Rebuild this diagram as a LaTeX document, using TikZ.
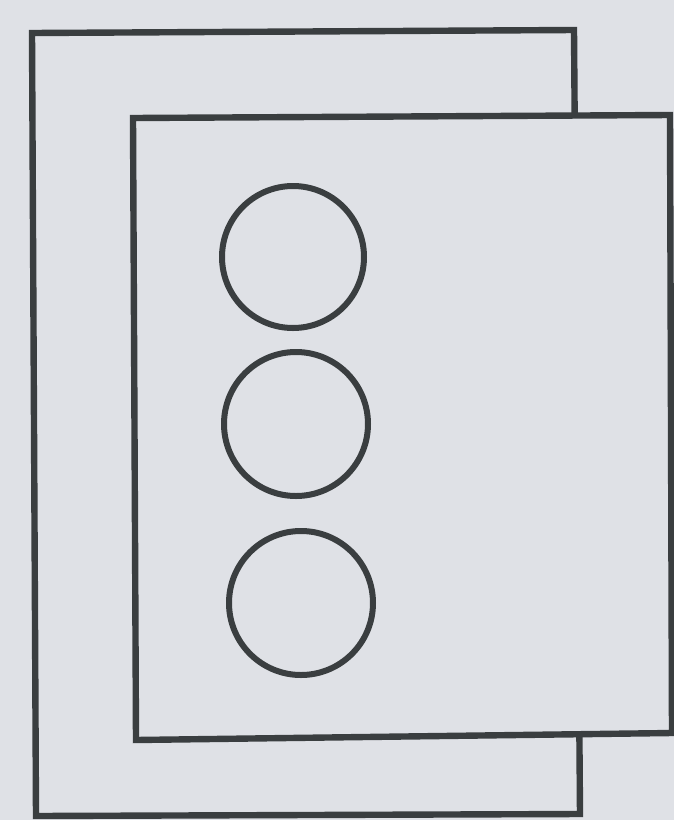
\documentclass[tikz,border=0pt]{standalone}
\usepackage{tikz}

\definecolor{paper}{RGB}{223,225,230}
\definecolor{ink}{RGB}{58,62,64}

\tikzset{
    outline/.style={draw=ink, line width=3.2pt, fill=paper},
    hole/.style={draw=ink, line width=3pt}
}

\begin{document}
\begin{tikzpicture}[x=0.5pt, y=-0.5pt]
    % Paper background
    \fill[paper] (0,0) rectangle (674,820);
    \useasboundingbox (0,0) rectangle (674,820);

    % Back sheet
    \draw[outline] (32,33) -- (574,30) -- (580,814) -- (36,816) -- cycle;

    % Front sheet, covering the back one
    \draw[outline] (133,118) -- (670,115) -- (672,733) -- (136,740) -- cycle;

    % Three circles in a column
    \draw[hole] (293,257) circle (71);
    \draw[hole] (296,424) circle (72);
    \draw[hole] (301,603) circle (72);
\end{tikzpicture}
\end{document}
